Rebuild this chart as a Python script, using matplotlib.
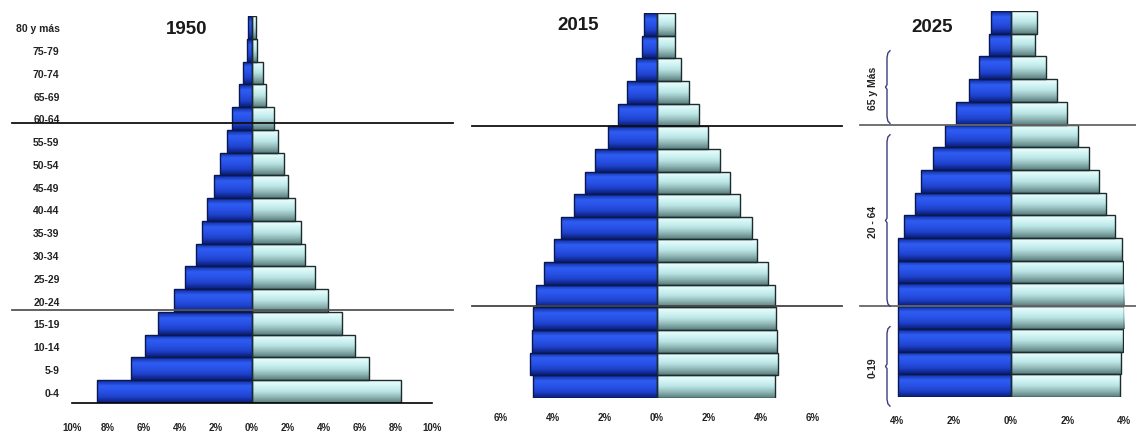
import numpy as np
import matplotlib
matplotlib.use("Agg")
import matplotlib.pyplot as plt
from matplotlib.colors import LinearSegmentedColormap
from matplotlib.lines import Line2D
import matplotlib.transforms as mtransforms

plt.rcParams['font.family'] = ['Liberation Sans', 'DejaVu Sans']

# -----------------------------------------------------
#  Data (percent of population)
# -----------------------------------------------------
ages = ["0-4", "5-9", "10-14", "15-19", "20-24", "25-29", "30-34", "35-39",
        "40-44", "45-49", "50-54", "55-59", "60-64", "65-69", "70-74",
        "75-79", "80 y más"]

years = ["1950", "2015", "2025"]

men_1950 = [8.6, 6.7, 5.95, 5.2, 4.35, 3.7, 3.1, 2.8, 2.5, 2.1, 1.8, 1.4,
            1.1, 0.7, 0.5, 0.3, 0.2]
women_1950 = [8.3, 6.5, 5.7, 5.0, 4.2, 3.5, 2.95, 2.7, 2.4, 2.0, 1.8, 1.45,
              1.2, 0.8, 0.6, 0.3, 0.2]

men_2015 = [4.77, 4.87, 4.79, 4.77, 4.64, 4.36, 3.97, 3.69, 3.18, 2.76, 2.37,
            1.9, 1.51, 1.15, 0.81, 0.58, 0.49]
women_2015 = [4.55, 4.64, 4.62, 4.59, 4.55, 4.26, 3.85, 3.67, 3.18, 2.8, 2.43,
              1.95, 1.6, 1.24, 0.92, 0.7, 0.68]

men_2025 = [3.98, 3.98, 3.98, 3.98, 3.98, 3.98, 3.98, 3.74, 3.36, 3.16, 2.74,
            2.3, 1.93, 1.46, 1.11, 0.75, 0.69]
women_2025 = [3.86, 3.89, 3.98, 4.01, 4.01, 3.98, 3.93, 3.68, 3.35, 3.13, 2.76,
              2.37, 1.99, 1.64, 1.26, 0.85, 0.95]

# x ticks for each panel
ticks_1950 = [-10, -8, -6, -4, -2, 0, 2, 4, 6, 8, 10]
ticks_2015 = [-6, -4, -2, 0, 2, 4, 6]
ticks_2025 = [-4, -2, 0, 2, 4]

# brace groups on the 2025 panel: (label, bottom, top) in bar-index units
groups_2025 = [("65 y Más", 11.55, 14.75), ("20 - 64", 3.5, 11.05),
               ("0-19", -0.9, 2.6)]

# -----------------------------------------------------
#  Styling helpers
# -----------------------------------------------------
W, H = 1136, 439
blue_cmap = LinearSegmentedColormap.from_list(
    "blue", ["#0c2a9a", "#2f5cf2", "#2852e6", "#1d40c8", "#0a1c74"])
light_cmap = LinearSegmentedColormap.from_list(
    "light", ["#effefe", "#d4f5f5", "#b9e4e4", "#8fb4b4", "#587e7e"])


def px_axes(left, right, top, bottom):
    # figure fraction rectangle from pixel edges (y from top)
    return [left / W, (H - bottom) / H, (right - left) / W, (bottom - top) / H]


def shade(ax, bars, cmap):
    grad = np.linspace(0, 1, 64).reshape(-1, 1)
    for b in bars:
        x0, x1 = sorted([b.get_x(), b.get_x() + b.get_width()])
        y0 = b.get_y()
        y1 = y0 + b.get_height()
        im = ax.imshow(grad, cmap=cmap, aspect="auto", origin="upper",
                       extent=(x0, x1, y0, y1), zorder=1, interpolation="bilinear")
        im.set_clip_path(b)


def pyramid(ax, men, women, xmax, ticks, pad):
    y = np.arange(len(ages))
    left = ax.barh(y, -np.array(men), height=1.0, facecolor="none",
                   edgecolor="#0a1850", linewidth=1.0, zorder=2)
    right = ax.barh(y, women, height=1.0, facecolor="none",
                    edgecolor="#1c2c2c", linewidth=1.0, zorder=2)
    shade(ax, left, blue_cmap)
    shade(ax, right, light_cmap)
    ax.set_xlim(-xmax, xmax)
    ax.set_ylim(-0.5, len(ages) - 0.5)
    ax.set_xticks(ticks)
    ax.set_xticklabels([f"{abs(t)}%" for t in ticks], fontsize=7,
                       fontweight="bold", color="#222222")
    ax.tick_params(axis="x", length=0, pad=pad)
    for s in ax.spines.values():
        s.set_visible(False)


fig = plt.figure(figsize=(W / 100, H / 100), dpi=100)

# 1950
ax1 = fig.add_axes(px_axes(72, 432, 17, 404))
pyramid(ax1, men_1950, women_1950, 10, ticks_1950, 14)
ax1.set_yticks(np.arange(len(ages)))
ax1.set_yticklabels(ages, fontsize=7.5, fontweight="bold", color="#222222")
ax1.tick_params(axis="y", length=0, pad=9)
ax1.spines["bottom"].set_visible(True)
ax1.spines["bottom"].set_linewidth(1.2)

# 2015
ax2 = fig.add_axes(px_axes(501, 813, 14, 399))
pyramid(ax2, men_2015, women_2015, 6, ticks_2015, 10)
ax2.set_yticks([])

# 2025
ax3 = fig.add_axes(px_axes(897, 1124, 12, 398))
pyramid(ax3, men_2025, women_2025, 4, ticks_2025, 13)
ax3.set_yticks([])

# titles
for x, yy, label in [(187, 30, years[0]), (578, 25, years[1]), (932, 27, years[2])]:
    fig.text(x / W, 1 - yy / H, label, fontsize=13.5, fontweight="bold",
             ha="center", va="center", color="#1a1a1a")

# horizontal separator lines (figure pixels)
seps = [
    (12, 453, 124, "#111111"), (12, 453, 311, "#555555"),
    (472, 842, 127, "#111111"), (472, 842, 307, "#444444"),
    (860, 1136, 126, "#666666"), (860, 1136, 307, "#666666"),
]
for x0, x1, yy, c in seps:
    fig.add_artist(Line2D([x0 / W, x1 / W], [1 - yy / H, 1 - yy / H],
                          transform=fig.transFigure, color=c, linewidth=1.3,
                          zorder=5))

# braces with rotated labels beside the 2025 pyramid
trans = mtransforms.blended_transform_factory(fig.transFigure, ax3.transData)
bx = 887 / W
hook = 3 / W
tip = 1.5 / W
for label, lo, hi in groups_2025:
    mid = (lo + hi) / 2
    xs = [bx + hook, bx + hook * 0.3, bx, bx, bx - tip, bx, bx,
          bx + hook * 0.3, bx + hook]
    ys = [hi, hi - 0.1, hi - 0.3, mid + 0.1, mid, mid - 0.1, lo + 0.3,
          lo + 0.1, lo]
    fig.add_artist(Line2D(xs, ys, transform=trans, color="#3b3b82",
                          linewidth=1.0, zorder=5))
    fig.text(873 / W, mid, label, transform=trans, rotation=90, fontsize=7.5,
             fontweight="bold", ha="center", va="center", color="#222222")

fig.savefig("out.png", dpi=100)
